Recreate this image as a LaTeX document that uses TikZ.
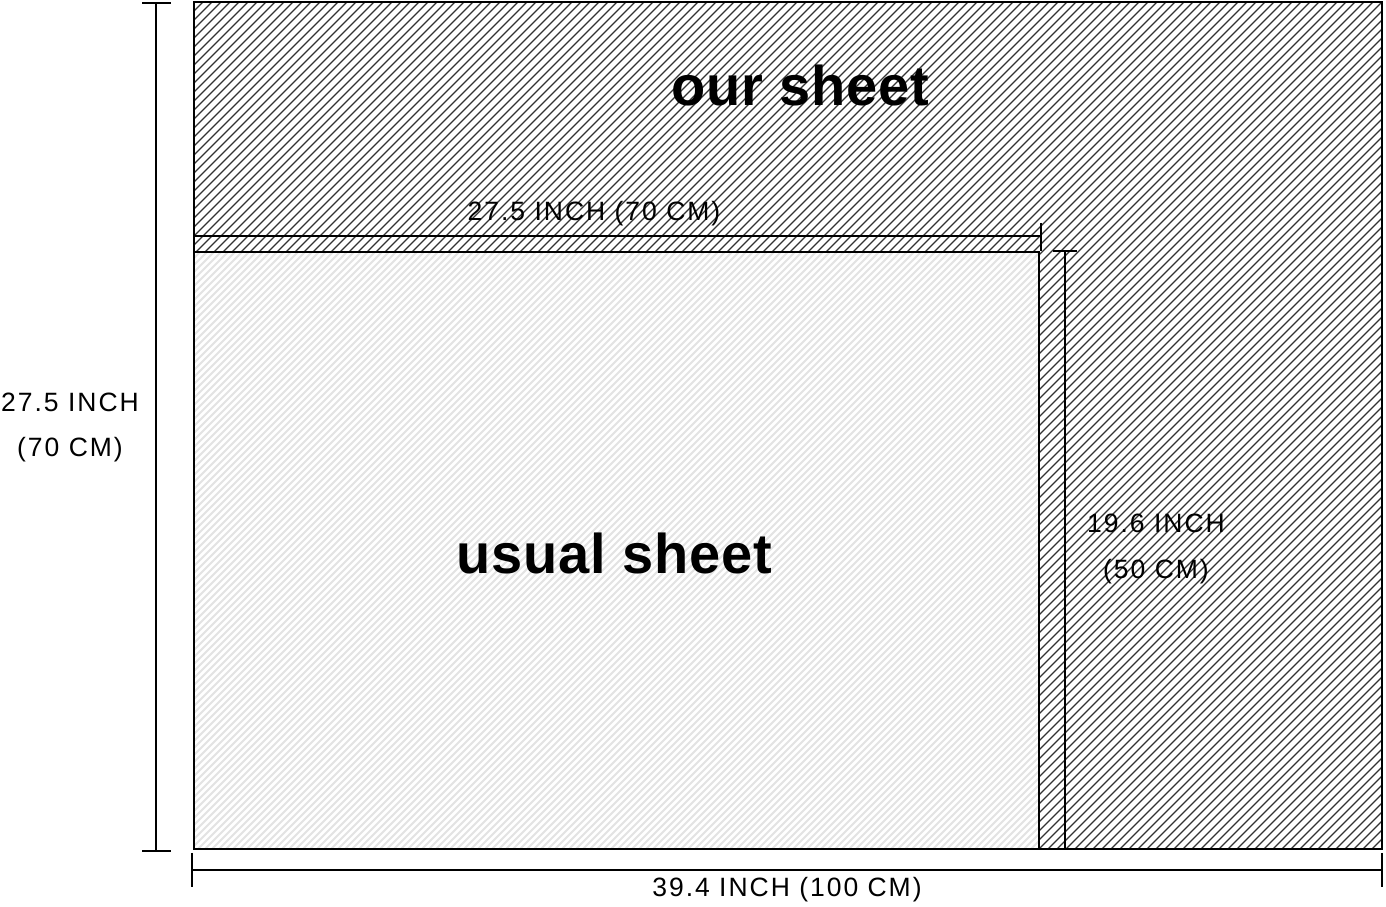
\documentclass[tikz,border=0pt]{standalone}
\usepackage{fontspec}
\setmainfont{Liberation Sans}
\newfontfamily\dimfont{Liberation Sans}[LetterSpace=7.5]
\newfontfamily\bigfont{Liberation Sans}[LetterSpace=1.5]
\begin{document}
\begin{tikzpicture}[x=1pt,y=1pt,
  frame/.style={draw=black,line width=2.2pt},
  dimline/.style={draw=black,line width=1.3pt},
  dimtext/.style={font=\dimfont\fontsize{26.5}{30}\selectfont,inner sep=0pt},
  bigtext/.style={font=\bigfont\fontsize{56}{64}\selectfont\bfseries,inner sep=0pt},
  darkhatch/.style={draw=black!80,line width=1.1pt},
  lighthatch/.style={draw=black!11,line width=1.8pt}]
\useasboundingbox (0,0) rectangle (1386,907);
% dark hatching over the whole sheet
\begin{scope}
  \clip (193,57) rectangle (1381,904);
  \foreach \s in {-900,-891,...,1400} \draw[darkhatch] (\s,0) -- (\s+907,907);
\end{scope}
% usual sheet (light hatch)
\fill[white] (193,57) rectangle (1038,654);
\begin{scope}
  \clip (193,57) rectangle (1038,654);
  \foreach \s in {-700,-693,...,1100} \draw[lighthatch] (\s,0) -- (\s+700,700);
\end{scope}
\node[frame,minimum width=1188pt,minimum height=847pt,anchor=south west,inner sep=0pt] (our) at (193,57) {};
\node[frame,minimum width=845pt,minimum height=597pt,anchor=south west,inner sep=0pt] (usual) at (193,57) {};
\node[bigtext] (ourlbl) at (800,822) {our sheet};
\node[bigtext] (usuallbl) at (614,354) {usual sheet};
% top inner dimension
\coordinate (h1) at (193,671);
\coordinate (h2) at (1041,671);
\coordinate (h2t) at (1041,684);
\coordinate (h2b) at (1041,656);
\draw[dimline] (h1) -- (h2);
\draw[dimline] (h2t) -- (h2b);
\node[dimtext] (wlbl) at (594,693) {27.5 INCH (70 CM)};
% right inner dimension
\coordinate (v1) at (1065,656);
\coordinate (v2) at (1065,57);
\coordinate (v1l) at (1053,656);
\coordinate (v1r) at (1077,656);
\draw[dimline] (v1) -- (v2);
\draw[dimline] (v1l) -- (v1r);
\node[dimtext] (hlbl1) at (1156,384) {19.6 INCH};
\node[dimtext] (hlbl2) at (1156,335) {(50 CM)};
% left dimension
\coordinate (l1) at (156,904);
\coordinate (l2) at (156,56);
\draw[dimline] (l1) -- (l2);
\draw[dimline] (142,904) coordinate (l1a) -- (171,904) coordinate (l1b);
\draw[dimline] (142,56) coordinate (l2a) -- (171,56) coordinate (l2b);
\node[dimtext] (llbl1) at (70,505) {27.5 INCH};
\node[dimtext] (llbl2) at (70,457) {(70 CM)};
% bottom dimension
\coordinate (b1) at (192,37);
\coordinate (b2) at (1382,37);
\draw[dimline] (b1) -- (b2);
\draw[dimline] (192,54) coordinate (b1t) -- (192,20) coordinate (b1b);
\draw[dimline] (1382,54) coordinate (b2t) -- (1382,20) coordinate (b2b);
\node[dimtext] (blbl) at (787,17) {39.4 INCH (100 CM)};
\end{tikzpicture}
\end{document}
